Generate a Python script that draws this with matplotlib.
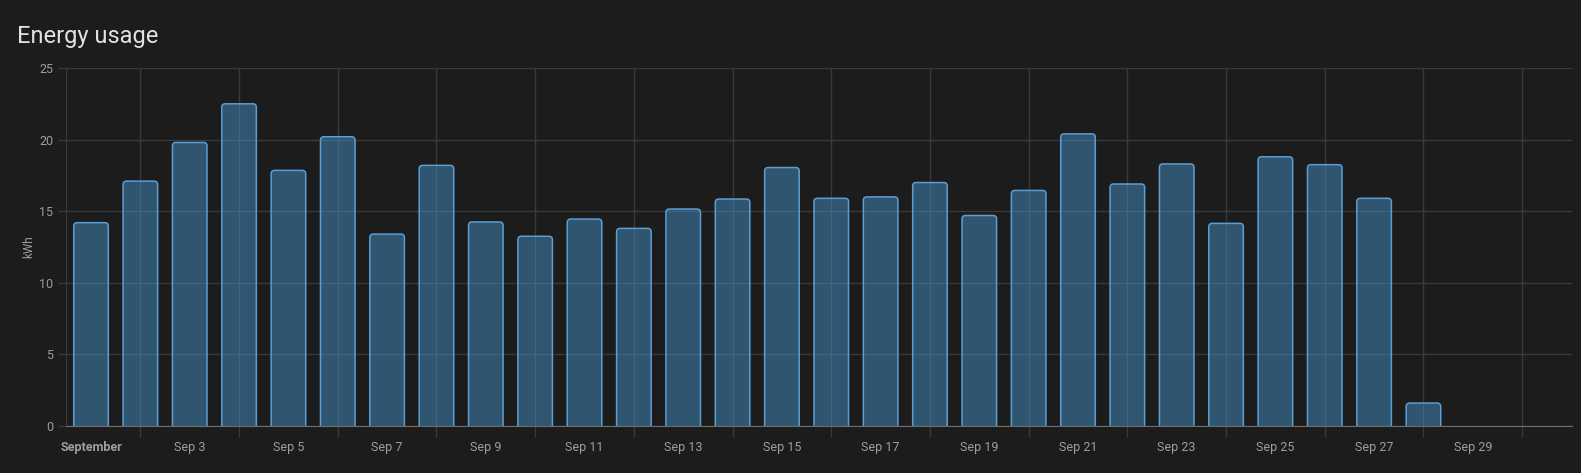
import matplotlib
matplotlib.use("Agg")
import matplotlib.pyplot as plt
from matplotlib.ticker import FixedLocator
from matplotlib.patches import FancyBboxPatch

days = list(range(1, 29))
usage = [14.2, 17.1, 19.8, 22.5, 17.85, 20.2, 13.4, 18.2, 14.25, 13.25, 14.45, 13.8,
         15.15, 15.85, 18.05, 15.9, 16.0, 17.0, 14.7, 16.45, 20.4, 16.9, 18.3, 14.15,
         18.8, 18.25, 15.9, 1.6]
label_days = [1, 3, 5, 7, 9, 11, 13, 15, 17, 19, 21, 23, 25, 27, 29]
label_texts = ["September", "Sep 3", "Sep 5", "Sep 7", "Sep 9", "Sep 11", "Sep 13",
               "Sep 15", "Sep 17", "Sep 19", "Sep 21", "Sep 23", "Sep 25", "Sep 27", "Sep 29"]
grid_days = [2, 4, 6, 8, 10, 12, 14, 16, 18, 20, 22, 24, 26, 28, 30]
y_ticks = [0, 5, 10, 15, 20, 25]

BG = "#1c1c1c"
GRID = "#3a3a3a"
TXT = "#9e9e9e"
FACE = (68/255, 142/255, 196/255, 0.5)
EDGE = "#5c9ed3"

plt.rcParams['font.family'] = ['Roboto', 'DejaVu Sans']

fig = plt.figure(figsize=(15.81, 4.73), dpi=100, facecolor=BG)
ax = fig.add_axes([66/1581, 1-426/473, (1572-66)/1581, (426-68)/473])
ax.set_facecolor(BG)

xlim = (0.493, 1 + (1572-91)/49.35)
ylim = (0, 25)
ax.set_xlim(*xlim)
ax.set_ylim(*ylim)

bars = ax.bar(days, usage, width=0.7, color=FACE, edgecolor=EDGE, linewidth=1.1, zorder=3)
# replace the rectangles with rounded-top versions of the same geometry
px_x = (xlim[1] - xlim[0]) / (1572 - 66)
px_y = (ylim[1] - ylim[0]) / (426 - 68)
r = 3.5 * px_x
aspect = px_y / px_x
for b in bars:
    x0, y0 = b.get_x(), b.get_y()
    w, h = b.get_width(), b.get_height()
    b.set_visible(False)
    extra = 6 * px_y
    p = FancyBboxPatch((x0, y0 - extra), w, h + extra,
                       boxstyle=f"round,pad=0,rounding_size={r}",
                       mutation_aspect=aspect,
                       facecolor=FACE, edgecolor=EDGE, linewidth=1.1, zorder=3)
    ax.add_patch(p)

ax.yaxis.set_major_locator(FixedLocator(y_ticks))
ax.set_yticklabels([str(v) for v in y_ticks])
ax.xaxis.set_major_locator(FixedLocator(grid_days))
ax.xaxis.set_minor_locator(FixedLocator(label_days))
ax.set_xticklabels([], minor=False)
ax.set_xticklabels(label_texts, minor=True)
for lbl in ax.get_xticklabels(minor=True):
    if lbl.get_text() == "September":
        lbl.set_fontweight("bold")

ax.tick_params(axis='x', which='major', length=8, color=GRID, width=1)
ax.tick_params(axis='x', which='minor', length=0, pad=11, labelsize=9, labelcolor=TXT)
ax.tick_params(axis='y', which='major', length=6, color=GRID, width=1, pad=3,
               labelsize=9, labelcolor=TXT)

ax.grid(True, which='major', axis='both', color=GRID, linewidth=1, zorder=4)
ax.set_axisbelow(False)

for s in ['top', 'right']:
    ax.spines[s].set_visible(False)
ax.spines['left'].set_color(GRID)
ax.spines['bottom'].set_color("#6e6e6e")
ax.spines['bottom'].set_zorder(5)

ax.set_ylabel("kWh", color=TXT, fontsize=8.5, labelpad=3)

fig.text(17/1581, 1-43/473, "Energy usage", color="#e1e1e1", fontsize=17, ha='left',
         va='baseline')

fig.savefig("out.png", dpi=100, facecolor=BG)
